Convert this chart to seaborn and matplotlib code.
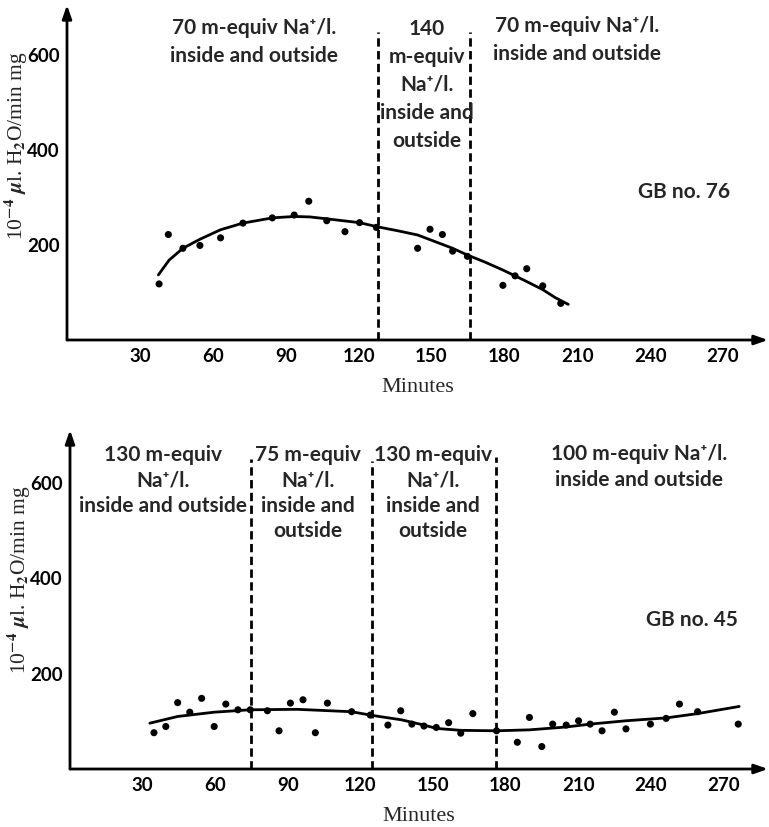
import matplotlib
matplotlib.use("Agg")
import matplotlib.pyplot as plt
import seaborn as sns
import pandas as pd

# ---------------- data ----------------
# GB no. 76 (top panel)
top_pts_min = [37.9, 41.7, 47.7, 54.7, 63.2, 72.4, 84.5, 93.5, 99.5, 106.9, 114.4,
               120.4, 127.3, 144.3, 149.4, 154.5, 158.7, 164.8, 179.4, 184.4,
               189.2, 195.8, 203.2]
top_pts_val = [118, 222, 193, 199, 215, 246, 257, 263, 292, 251, 228,
               247, 237, 193, 233, 222, 187, 176, 115, 135,
               150, 114, 77]
top_curve_min = [37.6, 42.0, 47.7, 54.7, 63.2, 72.4, 84.5, 93.5, 100.0, 106.9,
                 120.3, 128.0, 136.0, 144.3, 151.0, 158.7, 164.7, 172.0, 179.5,
                 184.4, 189.2, 195.8, 201.0, 206.3]
top_curve_val = [137, 168, 193, 212, 232, 246, 257, 260, 259, 255,
                 247, 238, 230, 221, 208, 193, 179, 164, 147,
                 135, 123, 106, 89, 75]
top_bounds = [128, 166]
top_bound_tops = [648, 648]

# GB no. 45 (bottom panel)
bot_pts_min = [34.7, 39.6, 44.5, 49.5, 54.4, 59.6, 64.4, 69.4, 74.5, 81.6, 86.4,
               91.1, 96.3, 101.4, 106.4, 116.4, 124.1, 131.4, 136.7, 141.3,
               146.3, 151.4, 156.5, 161.5, 166.5, 176.3, 184.9, 189.9, 195.0,
               199.5, 205.1, 210.2, 215.0, 219.9, 225.0, 229.8, 239.9, 246.4,
               251.9, 259.4, 276.2]
bot_pts_val = [76, 89, 139, 119, 148, 89, 136, 124, 124, 122, 80,
               138, 145, 76, 138, 120, 113, 92, 122, 94,
               90, 87, 97, 75, 116, 80, 56, 108, 47,
               94, 92, 101, 94, 80, 119, 84, 94, 106,
               136, 120, 94]
bot_curve_min = [33.0, 44.5, 59.6, 74.3, 93.8, 116.3, 124.1, 127.8, 137.0, 146.3,
                 151.4, 161.4, 176.2, 189.9, 205.1, 215.0, 229.8, 246.4, 259.4, 276.6]
bot_curve_val = [96, 110, 119, 124, 125, 120, 113, 110, 103, 92,
                 85, 81, 80, 82, 88, 94, 101, 107, 116, 131]
bot_bounds = [75, 125, 176]
bot_bound_tops = [649, 645, 653]

xticks = [30, 60, 90, 120, 150, 180, 210, 240, 270]
yticks = [200, 400, 600]
yminor = [100, 300, 500]

top_labels = ["70 m-equiv Na\u207a/l.\ninside and outside",
              "140\nm-equiv\nNa\u207a/l.\ninside and\noutside",
              "70 m-equiv Na\u207a/l.\ninside and outside"]
top_label_x = [77, 148, 210]
top_label_y = [627, 537, 632]
bot_labels = ["130 m-equiv\nNa\u207a/l.\ninside and outside",
              "75 m-equiv\nNa\u207a/l.\ninside and\noutside",
              "130 m-equiv\nNa\u207a/l.\ninside and\noutside",
              "100 m-equiv Na\u207a/l.\ninside and outside"]
bot_label_x = [38.4, 98.3, 150, 235.3]
bot_label_y = [605, 578, 578, 632]
top_name, bot_name = "GB no. 76", "GB no. 45"

# ---------------- style ----------------
sns.set_style("white")
plt.rcParams["font.family"] = ["Lato", "DejaVu Sans"]
plt.rcParams["font.weight"] = "bold"
SANS = ["Lato", "DejaVu Sans"]
SERIF = ["Liberation Serif", "DejaVu Serif"]
FS = 15

fig = plt.figure(figsize=(7.69, 8.27), dpi=100)
ax1 = fig.add_axes([67 / 769, 1 - 340 / 827, 701 / 769, 335 / 827])
ax2 = fig.add_axes([70 / 769, 1 - 769 / 827, 698 / 769, 339 / 827])


def setup(ax, ytop, ylab_y):
    ax.set_xlim(0, 288.5)
    ax.set_ylim(0, ytop)
    for s in ax.spines.values():
        s.set_visible(False)
    style = "-|>,head_length=0.8,head_width=0.28"
    ax.annotate("", xy=(1.0, 0), xytext=(0, 0), xycoords="axes fraction",
                arrowprops=dict(arrowstyle=style, lw=2.0, color="black",
                                shrinkA=0, shrinkB=0))
    ax.annotate("", xy=(0, 1.0), xytext=(0, 0), xycoords="axes fraction",
                arrowprops=dict(arrowstyle=style, lw=2.0, color="black",
                                shrinkA=0, shrinkB=0))
    ax.set_xticks(xticks)
    ax.set_xticklabels([str(t) for t in xticks])
    ax.set_yticks(yticks)
    ax.set_yticklabels([str(t) for t in yticks])
    ax.set_yticks(yminor, minor=True)
    ax.tick_params(axis="x", direction="in", length=7, width=2.0, pad=6,
                   labelsize=13.5, colors="black")
    ax.tick_params(axis="y", which="both", direction="in", length=9, width=2.0,
                   pad=5, labelsize=13.5, colors="black")
    for lbl in ax.get_xticklabels() + ax.get_yticklabels():
        lbl.set_family(SANS)
        lbl.set_weight("bold")
    ax.set_xlabel("Minutes", family=SERIF, weight="normal", fontsize=16, labelpad=9)
    ax.set_ylabel(r"10$^{-4}$ $\mu$l. H$_2$O/min mg", family=SERIF, weight="normal",
                  fontsize=15.5, math_fontfamily="stix")
    ax.yaxis.set_label_coords(-0.053, ylab_y)


def draw(ax, pm, pv, cm, cv, bounds, btops, labels, lx, ly, ls):
    pts = pd.DataFrame({"Minutes": pm, "rate": pv})
    cur = pd.DataFrame({"Minutes": cm, "rate": cv})
    sns.lineplot(data=cur, x="Minutes", y="rate", ax=ax, color="black", lw=2.0,
                 sort=False, estimator=None)
    sns.scatterplot(data=pts, x="Minutes", y="rate", ax=ax, color="black",
                    s=26, edgecolor="none", zorder=3)
    for b, t in zip(bounds, btops):
        ax.plot([b, b], [0, t], color="black", lw=2.0, ls=(0, (3.0, 1.6)))
    for txt, x, y in zip(labels, lx, ly):
        ax.text(x, y, txt, ha="center", va="center", fontsize=FS, family=SANS,
                weight="bold", linespacing=ls)


draw(ax1, top_pts_min, top_pts_val, top_curve_min, top_curve_val, top_bounds,
     top_bound_tops, top_labels, top_label_x, top_label_y, 1.5)
ax1.text(254, 311, top_name, ha="center", va="center", fontsize=FS, family=SANS,
         weight="bold")
setup(ax1, 705, 0.58)

draw(ax2, bot_pts_min, bot_pts_val, bot_curve_min, bot_curve_val, bot_bounds,
     bot_bound_tops, bot_labels, bot_label_x, bot_label_y, 1.35)
ax2.text(257, 313, bot_name, ha="center", va="center", fontsize=FS, family=SANS,
         weight="bold")
setup(ax2, 710, 0.56)

fig.savefig("out.png", dpi=100)
